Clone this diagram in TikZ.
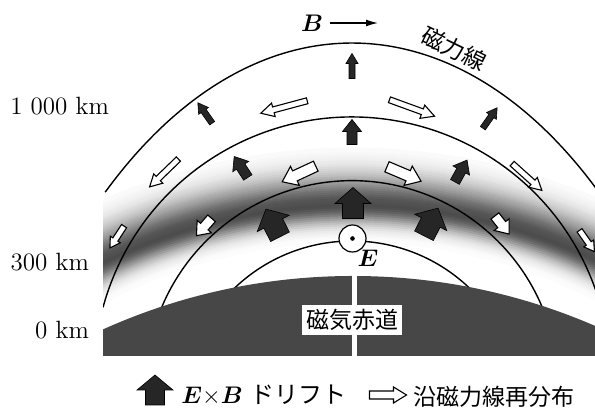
\documentclass[tikz,border=0pt]{standalone}
\usepackage{amsmath,bm}
\usepackage{fontspec}
\newfontfamily\jp{Noto Sans CJK JP}
\usetikzlibrary{arrows.meta}
\newcommand{\Ef}{\bm{E}}
\newcommand{\Bf}{\bm{B}}

\tikzset{
  fieldline/.style={line width=0.7pt},
  drift/.style={fill=black!85,draw=black,line width=0.3pt},
  flow/.style={fill=white,draw=black,line width=0.55pt},
  alt/.style={anchor=east,font=\fontsize{12.5}{14}\selectfont},
  jtext/.style={font=\jp\fontsize{11.5}{13}\selectfont},
  % length, head width, shaft width, head length
  pics/fat/.style n args={4}{code={%
    \path[pic actions] (-#3/2,-#1/2) -- (#3/2,-#1/2) -- (#3/2,#1/2-#4)
      -- (#2/2,#1/2-#4) -- (0,#1/2) -- (-#2/2,#1/2-#4) -- (-#3/2,#1/2-#4) -- cycle;}},
}

\begin{document}
\begin{tikzpicture}[x=0.5pt,y=0.5pt,>={Latex[length=6pt,width=3.5pt]}]
\useasboundingbox (0,0) rectangle (595,410);

% ionisation band
\begin{scope}
\clip (103,0) rectangle (595,410);
\foreach \k in {-18,...,28}{
  \pgfmathsetmacro\s{\k<0 ? 9 : 15}
  \pgfmathtruncatemacro\g{70*exp(0-((\k)*(\k))/(\s*\s))}
  \draw[black!\g,line width=1.3pt] (352,-367) ++(60:{572+2*\k}) arc[start angle=60,end angle=120,radius={572+2*\k}];
}
% field lines
\draw[fieldline] (352,-333) ++(128.1:400 and 700) arc[start angle=128.1,end angle=48,x radius=400,y radius=700];
\draw[fieldline] (352,35) ++(164.8:258) arc[start angle=164.8,end angle=10,radius=258];
\draw[fieldline] (352,23) ++(160:206.3) arc[start angle=160,end angle=20,radius=206.3];
\draw[fieldline] (352,-1) ++(135:170) arc[start angle=135,end angle=45,radius=170];
\end{scope}

% earth
\begin{scope}
\clip (103,54) rectangle (595,300);
\fill[black!72] (353,-476) circle[radius=610];
\end{scope}
\draw[white,line width=2.5pt] (354,54) -- (354,140);
\node[jtext,fill=white,inner sep=2pt] (equator) at (352,90) {磁気赤道};

% E x B drift
\pic[drift] at (352,344) {fat={25}{12}{6}{10}};
\pic[drift,rotate=35] at (205,297) {fat={25}{12}{6}{10}};
\pic[drift,rotate=-35] at (490,292) {fat={25}{12}{6}{10}};
\pic[drift] at (352,278) {fat={25}{19}{10}{12}};
\pic[drift,rotate=33] at (241,243) {fat={25}{19}{10}{12}};
\pic[drift,rotate=-29] at (461,239) {fat={25}{19}{10}{12}};
\pic[drift] at (353,207) {fat={31}{36}{21}{16}};
\pic[drift,rotate=27] at (273,187) {fat={31}{36}{21}{16}};
\pic[drift,rotate=-27] at (431,188) {fat={31}{36}{21}{16}};

% flow along the field lines
\pic[flow,rotate=105] at (284,303) {fat={48}{14}{6}{13}};
\pic[flow,rotate=-110] at (412,302) {fat={48}{14}{6}{13}};
\pic[flow,rotate=134] at (164,237) {fat={40}{13}{6}{12}};
\pic[flow,rotate=-132] at (527,233) {fat={40}{13}{6}{12}};
\pic[flow,rotate=147] at (117,173) {fat={26}{12}{6}{10}};
\pic[flow,rotate=-145] at (587,169) {fat={26}{12}{6}{10}};
\pic[flow,rotate=115] at (299,236) {fat={37}{21}{11}{14}};
\pic[flow,rotate=-113] at (404,236) {fat={37}{21}{11}{14}};
\pic[flow,rotate=139] at (204,183) {fat={23}{19}{10}{12}};
\pic[flow,rotate=-142] at (502,185) {fat={23}{19}{10}{12}};

% E field out of the page
\node[circle,draw,fill=white,line width=0.6pt,minimum size=13.5pt,inner sep=0pt] (efield) at (352.5,171.5) {};
\fill (efield.center) circle[radius=2.3];
\node[font=\fontsize{12}{14}\selectfont] (elab) at (368,152) {$\Ef$};

% B direction
\node[font=\fontsize{13}{15}\selectfont] (blab) at (312,387) {$\Bf$};
\coordinate (bhead) at (378,387);
\draw[->,line width=0.6pt] (blab) -- (bhead);
\node[jtext,rotate=-26] (fline) at (454,361) {磁力線};

% altitudes
\node[alt] (h1000) at (116,304) {1 000 km};
\node[alt] (h300) at (96,148) {300 km};
\node[alt] (h0) at (96,80) {0 km};

% legend
\pic[drift] at (155,20) {fat={30}{36}{19}{15}};
\node[anchor=west,font=\fontsize{12}{14}\selectfont,inner sep=0pt] (legexb) at (181,15) {$\Ef{\times}\Bf$\ {\jp ドリフト}};
\pic[flow,rotate=-90] at (388,15) {fat={37}{16}{8}{13}};
\node[jtext,anchor=west,inner sep=0pt] (legflow) at (413,13) {沿磁力線再分布};
\end{tikzpicture}
\end{document}
